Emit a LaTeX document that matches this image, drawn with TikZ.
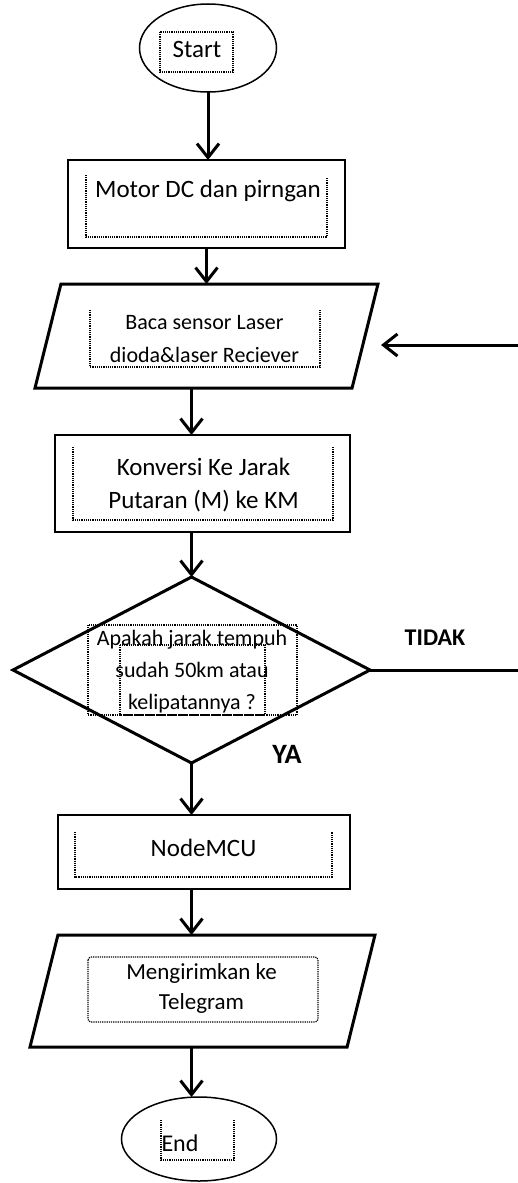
\documentclass[tikz,border=0pt]{standalone}
\usepackage{fontspec}
\setmainfont{Carlito}
\usetikzlibrary{shapes.geometric,arrows.meta}
\begin{document}
\begin{tikzpicture}[x=1pt,y=-1pt,>={Straight Barb[length=14pt,width=22pt]},
 panah/.style={->,line width=3},
 kotak/.style={draw,line width=2,inner sep=0,outer sep=0},
 jajar/.style={trapezium,trapezium stretches body=true,trapezium left angle=76,trapezium right angle=104,draw,line width=3,inner xsep=1,inner ysep=#1,outer sep=0},
 elips/.style={ellipse,draw,line width=1.5,inner sep=0,outer sep=0},
 titik/.style={densely dotted,line width=1.2},
 teks/.style={align=center,inner sep=0}]
\useasboundingbox(0,0)rectangle(518,1183);
%bentuk
\node[elips,minimum width=137,minimum height=88](start)at(208,48){};
\node[kotak,minimum width=277,minimum height=88](motor)at(206.5,204){};
\node[jajar=52,minimum width=343](baca)at(206.5,336){};
\node[kotak,minimum width=295,minimum height=97](konversi)at(202.5,483.5){};
\node[diamond,draw,line width=3,inner sep=0,outer sep=0,minimum width=357,minimum height=186](cek)at(191.5,670){};
\node[kotak,minimum width=292,minimum height=74](nodemcu)at(204,852){};
\node[jajar=56,minimum width=345](kirim)at(202.5,991){};
\node[elips,minimum width=155,minimum height=84](selesai)at(199,1139){};
%kotak teks bertitik
\draw[titik](160,32)rectangle(233,72);
\draw[titik](86,175)--(86,237)--(327,237)--(327,178);
\draw[titik](90,310)--(90,367)--(320,367)--(320,310);
\draw[titik](73,447)--(73,520)--(333,520)--(333,447);
\draw[titik](88,625)rectangle(297,715);
\draw[titik](120,645)rectangle(265,715);
\draw[titik](75,832)--(75,877)--(332,877)--(332,832);
\draw[titik,rounded corners=3](88,957)rectangle(318,1022);
\draw[titik](161,1120)--(161,1160)--(234,1160)--(234,1120);
%teks
\node[teks,font=\fontsize{25}{30}\selectfont](tstart)at(197,49){Start};
\node[teks,font=\fontsize{25}{30}\selectfont](tmotor)at(208,191){Motor DC dan pirngan};
\node[teks,font=\fontsize{22}{33}\selectfont](tbaca)at(204.5,339){Baca sensor Laser\\dioda\&laser Reciever};
\node[teks,font=\fontsize{25}{33}\selectfont](tkonversi)at(203.5,485){Konversi Ke Jarak\\Putaran (M) ke KM};
\node[teks,font=\fontsize{22}{32}\selectfont](tcek)at(192,672){Apakah jarak tempuh\\sudah 50km atau\\kelipatannya ?};
\node[teks,font=\fontsize{25}{30}\selectfont](tnodemcu)at(203.5,848){NodeMCU};
\node[teks,font=\fontsize{23}{30}\selectfont](tkirim)at(201.5,988){Mengirimkan ke\\Telegram};
\node[teks,font=\fontsize{24}{30}\selectfont](tselesai)at(180,1143){End};
\node[teks,font=\bfseries\fontsize{24}{30}\selectfont](tidak)at(435,638){TIDAK};
\node[teks,font=\bfseries\fontsize{28}{30}\selectfont](ya)at(287,754){YA};
%panah
\draw[panah](start.south)--(start.south|-motor.north);
\draw[panah](motor.south)--(motor.south|-baca.north);
\draw[panah](baca.south-|cek.north)--(konversi.north-|cek.north);
\draw[panah](konversi.south-|cek.north)--(cek.north);
\draw[panah](cek.south)--(cek.south|-nodemcu.north);
\draw[panah](nodemcu.south-|cek.south)--(kirim.north-|cek.south);
\draw[panah](kirim.south-|cek.south)--(selesai.north-|cek.south);
%ulang
\coordinate(tdk)at(518,670);
\coordinate(lup)at(518,345);
\draw[line width=3](cek.east)--(tdk);
\draw[panah](lup)--([xshift=16]baca.east|-lup);
\end{tikzpicture}
\end{document}
